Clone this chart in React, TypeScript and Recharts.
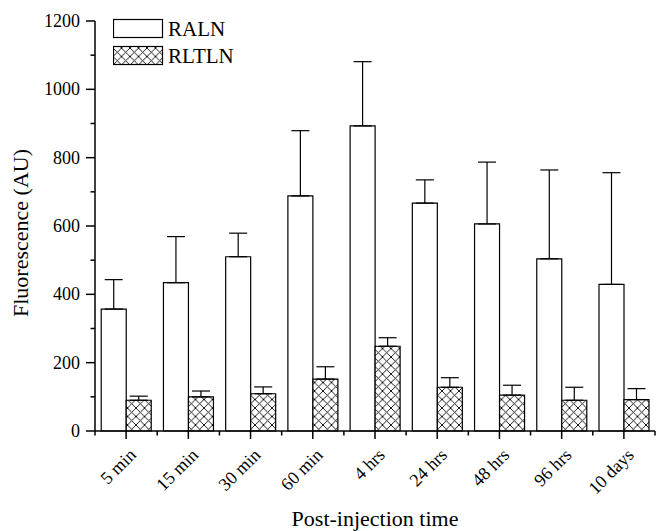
import { BarChart, Bar, XAxis, YAxis, ErrorBar, Legend } from 'recharts'

const categories = ['5 min', '15 min', '30 min', '60 min', '4 hrs', '24 hrs', '48 hrs', '96 hrs', '10 days']
const ralnValues = [357, 434, 510, 688, 893, 667, 606, 504, 429]
const ralnErrors = [86, 135, 69, 191, 188, 68, 181, 260, 327]
const rltlnValues = [90, 100, 109, 152, 248, 128, 105, 90, 92]
const rltlnErrors = [12, 17, 20, 36, 25, 28, 29, 38, 32]
const yTicks = [0, 100, 200, 300, 400, 500, 600, 700, 800, 900, 1000, 1100, 1200]

const WIDTH = 657
const HEIGHT = 531
const MARGIN = { top: 21, right: 2, left: 0, bottom: 0 }
const Y_AXIS_WIDTH = 95
const X_AXIS_HEIGHT = 100
const AXIS_X = MARGIN.left + Y_AXIS_WIDTH
const AXIS_Y = HEIGHT - MARGIN.bottom - X_AXIS_HEIGHT
const BAND = (WIDTH - MARGIN.left - MARGIN.right - Y_AXIS_WIDTH) / categories.length
const FONT = 'Liberation Serif'

const data = categories.map((name, i) => ({
  name,
  raln: ralnValues[i],
  ralnErr: [0, ralnErrors[i]],
  rltln: rltlnValues[i],
  rltlnErr: [0, rltlnErrors[i]]
}))

// major ticks every 200 with labels, minor ticks in between
const YTick = (props: any) => {
  const { y, payload } = props
  const major = payload.value % 200 === 0
  return (
    <g>
      <line x1={AXIS_X - (major ? 9 : 4.5)} x2={AXIS_X} y1={y} y2={y} stroke="#000" strokeWidth={1.5} />
      {major && (
        <text x={AXIS_X - 15} y={y + 6} textAnchor="end" fontFamily={FONT} fontSize={18} fill="#000">
          {String(payload.value)}
        </text>
      )}
    </g>
  )
}

const XTick = (props: any) => {
  const { x, payload, index } = props
  const last = index === categories.length - 1
  return (
    <g>
      <line x1={x} x2={x} y1={AXIS_Y} y2={AXIS_Y + 8} stroke="#000" strokeWidth={1.5} />
      <line x1={x - BAND / 2} x2={x - BAND / 2} y1={AXIS_Y} y2={AXIS_Y + 4.5} stroke="#000" strokeWidth={1.5} />
      {last && <line x1={x + BAND / 2} x2={x + BAND / 2} y1={AXIS_Y} y2={AXIS_Y + 4.5} stroke="#000" strokeWidth={1.5} />}
      <text
        x={x + 11}
        y={AXIS_Y + 25}
        textAnchor="end"
        transform={`rotate(-45 ${x + 11} ${AXIS_Y + 25})`}
        fontFamily={FONT}
        fontSize={18}
        fill="#000"
      >
        {payload.value}
      </text>
    </g>
  )
}

const YLabel = () => (
  <text x={28} y={233} transform="rotate(-90 28 233)" textAnchor="middle" fontFamily={FONT} fontSize={22} fill="#000">
    Fluorescence (AU)
  </text>
)

const HatchDef = ({ id }: { id: string }) => (
  <defs>
    <pattern id={id} patternUnits="userSpaceOnUse" width={8.5} height={8.5}>
      <rect width={8.5} height={8.5} fill="#fff" />
      <path d="M-1 -1 L9.5 9.5 M9.5 -1 L-1 9.5" stroke="#000" strokeWidth={0.9} />
    </pattern>
  </defs>
)

const LegendBox = () => (
  <svg width={160} height={60} style={{ display: 'block' }}>
    <HatchDef id="hatchLegend" />
    <rect x={0.5} y={5.5} width={49} height={18} fill="#fff" stroke="#000" strokeWidth={1.2} />
    <text x={55} y={22} fontFamily={FONT} fontSize={21} fill="#000">RALN</text>
    <rect x={0.5} y={32.5} width={49} height={18} fill="url(#hatchLegend)" stroke="#000" strokeWidth={1.2} />
    <text x={55} y={49} fontFamily={FONT} fontSize={21} fill="#000">RLTLN</text>
  </svg>
)

export default function App () {
  return (
    <div style={{ position: 'absolute', left: 0, top: 0, fontFamily: FONT }}>
      <BarChart width={WIDTH} height={HEIGHT} data={data} margin={MARGIN} barCategoryGap="10%" barGap={0}>
        <HatchDef id="hatch" />
        <XAxis
          dataKey="name"
          height={X_AXIS_HEIGHT}
          tickLine={false}
          axisLine={{ stroke: '#000', strokeWidth: 1.5 }}
          tick={<XTick />}
          interval={0}
          label={{ value: 'Post-injection time', position: 'insideBottom', offset: 5, fontFamily: FONT, fontSize: 22, fill: '#000' }}
        />
        <YAxis
          width={Y_AXIS_WIDTH}
          domain={[0, 1200]}
          ticks={yTicks}
          interval={0}
          tickLine={false}
          axisLine={{ stroke: '#000', strokeWidth: 1.5 }}
          tick={<YTick />}
          label={{ content: <YLabel /> }}
        />
        <Legend
          layout="vertical"
          align="center"
          verticalAlign="middle"
          wrapperStyle={{ left: 113, top: 14, width: 160 }}
          content={<LegendBox />}
        />
        <Bar dataKey="raln" fill="#fff" stroke="#000" strokeWidth={1.2} isAnimationActive={false}>
          <ErrorBar dataKey="ralnErr" width={9} stroke="#000" strokeWidth={1.2} direction="y" />
        </Bar>
        <Bar dataKey="rltln" fill="url(#hatch)" stroke="#000" strokeWidth={1.2} isAnimationActive={false}>
          <ErrorBar dataKey="rltlnErr" width={9} stroke="#000" strokeWidth={1.2} direction="y" />
        </Bar>
      </BarChart>
    </div>
  )
}
